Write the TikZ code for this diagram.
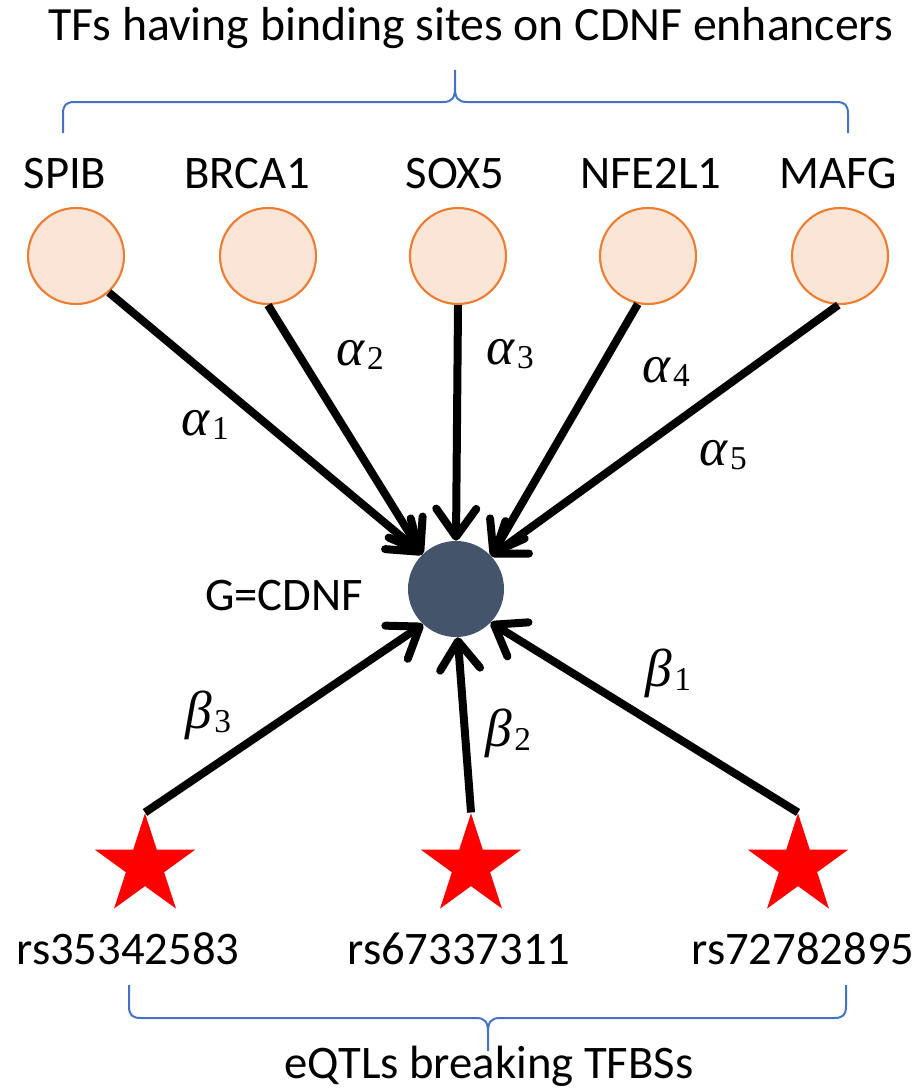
\documentclass[tikz,border=0pt]{standalone}
\usepackage{fontspec}
\setmainfont{Carlito}
\newfontfamily\grk{Liberation Serif}
\newcommand{\wlab}[2]{{\fontsize{40}{46}\selectfont\grk\itshape #1}\kern2pt\raisebox{-0.3em}{\fontsize{25}{30}\selectfont\grk #2}}
\usetikzlibrary{arrows.meta,shapes.geometric}
\definecolor{tffill}{HTML}{FBE5D6}
\definecolor{tfdraw}{HTML}{ED7D31}
\definecolor{gfill}{HTML}{44546A}
\definecolor{bracecol}{HTML}{4472C4}
\begin{document}
\begin{tikzpicture}[x=0.75pt,y=-0.75pt,
 tf/.style={circle,fill=tffill,draw=tfdraw,line width=1.6pt,minimum size=72pt,inner sep=0pt},
 gnode/.style={circle,fill=gfill,minimum size=72pt,inner sep=0pt},
 starnode/.style={star,star points=5,star point ratio=2.618,fill=red,minimum size=79pt,inner sep=0pt},
 lbl/.style={font=\fontsize{35}{42}\selectfont,anchor=base,inner sep=0pt},
 mlbl/.style={inner sep=0pt},
 arr/.style={line width=6pt,-{Straight Barb[length=21pt,width=30pt,round]}},
 bracestyle/.style={draw=bracecol,line width=1.5pt}]
\useasboundingbox (0,0) rectangle (920,1088);

% title and top brace
\node[lbl,font=\fontsize{35.8}{42}\selectfont] (title) at (471,41) {TFs having binding sites on CDNF enhancers};
\draw[bracestyle] (63,133) -- (63,114) .. controls (63,105) and (66,102) .. (75,102)
  -- (443,102) .. controls (452,102) and (455,98) .. (455,88) -- (455,70)
  -- (455,88) .. controls (455,98) and (458,102) .. (467,102)
  -- (836,102) .. controls (845,102) and (848,105) .. (848,114) -- (848,133);

% TF labels
\node[lbl] (lspib) at (65,188) {SPIB};
\node[lbl] (lbrca) at (247,188) {BRCA1};
\node[lbl] (lsox) at (455,188) {SOX5};
\node[lbl] (lnfe) at (651,188) {NFE2L1};
\node[lbl] (lmafg) at (838,188) {MAFG};

% TF nodes
\node[tf] (spib) at (76,256) {};
\node[tf] (brca) at (268,256) {};
\node[tf] (sox) at (458,256) {};
\node[tf] (nfe) at (648,256) {};
\node[tf] (mafg) at (840,256) {};

% gene node
\node[gnode] (g) at (456,589) {};
\node[lbl] (lg) at (284,610) {G=CDNF};

% stars
\node[starnode] (s1) at (145,866) {};
\node[starnode] (s2) at (471,866) {};
\node[starnode] (s3) at (798,866) {};

% connectors
\draw[arr] (spib.-48) -- (g.134);
\draw[arr] (brca.south) -- (g.134);
\draw[arr] (sox.south) -- (g.north);
\draw[arr] (nfe.258) -- (g.43);
\draw[arr] (mafg.268) -- (g.43);
\draw[arr] (s1.outer point 1) -- (g.227);
\draw[arr] (s2.outer point 1) -- (g.272);
\draw[arr] (s3.outer point 1) -- (g.316);

% weights
\node[mlbl] (a1) at (205,425) {\wlab{α}{1}};
\node[mlbl] (a2) at (360,355) {\wlab{α}{2}};
\node[mlbl] (a3) at (510,354) {\wlab{α}{3}};
\node[mlbl] (a4) at (666,372) {\wlab{α}{4}};
\node[mlbl] (a5) at (723,455) {\wlab{α}{5}};
\node[mlbl] (b3) at (208,715) {\wlab{β}{3}};
\node[mlbl] (b2) at (508,733) {\wlab{β}{2}};
\node[mlbl] (b1) at (668,673) {\wlab{β}{1}};

% SNP labels
\node[lbl] (r1) at (128,964) {rs35342583};
\node[lbl] (r2) at (459,964) {rs67337311};
\node[lbl] (r3) at (803,964) {rs72782895};

% bottom brace
\draw[bracestyle] (129,985) -- (129,1006) .. controls (129,1015) and (132,1018) .. (141,1018)
  -- (476,1018) .. controls (485,1018) and (488,1022) .. (488,1032) -- (488,1051)
  -- (488,1032) .. controls (488,1022) and (491,1018) .. (500,1018)
  -- (834,1018) .. controls (843,1018) and (846,1015) .. (846,1006) -- (846,985);
\node[lbl] (bottom) at (489,1078) {eQTLs breaking TFBSs};
\end{tikzpicture}
\end{document}
